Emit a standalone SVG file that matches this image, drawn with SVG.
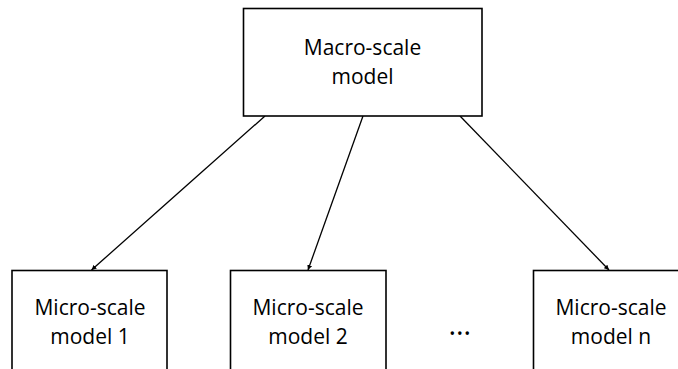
<svg xmlns="http://www.w3.org/2000/svg" width="678" height="369" viewBox="0 0 678 369">
<style>
.box{fill:#fff;stroke:#000;stroke-width:1.6}
.lbl{font-family:"Open Sans","Liberation Sans",sans-serif;font-size:21px;fill:#000;text-anchor:middle}
.edge{stroke:#000;stroke-width:1.3;fill:none}
</style>
<defs>
<marker id="ah" viewBox="0 0 10 10" refX="10" refY="5" markerWidth="5" markerHeight="5" orient="auto" markerUnits="userSpaceOnUse">
<path d="M0,0 L10,5 L0,10 z" fill="#000"/>
</marker>
</defs>
<rect width="678" height="369" fill="#fff"/>
<g id="connectors">
<line class="edge" x1="265" y1="116" x2="91.5" y2="270" marker-end="url(#ah)"/>
<line class="edge" x1="363" y1="116" x2="308" y2="270" marker-end="url(#ah)"/>
<line class="edge" x1="460" y1="116" x2="609" y2="270" marker-end="url(#ah)"/>
</g>
<g id="macro">
<rect class="box" x="243.5" y="8.5" width="238.5" height="107.5"/>
<text class="lbl" x="362.5" y="55">Macro-scale</text>
<text class="lbl" x="362.5" y="83.5">model</text>
</g>
<g id="micro1">
<rect class="box" x="12" y="270.5" width="155" height="110"/>
<text class="lbl" x="90" y="315">Micro-scale</text>
<text class="lbl" x="90" y="344">model 1</text>
</g>
<g id="micro2">
<rect class="box" x="230.5" y="270.5" width="155.5" height="110"/>
<text class="lbl" x="308" y="315">Micro-scale</text>
<text class="lbl" x="308" y="344">model 2</text>
</g>
<g id="ellipsis">
<text class="lbl" x="459.7" y="335" style="font-size:29px">…</text>
</g>
<g id="micron">
<rect class="box" x="533.5" y="270.5" width="156" height="110"/>
<text class="lbl" x="611" y="315">Micro-scale</text>
<text class="lbl" x="611" y="344">model n</text>
</g>
</svg>
